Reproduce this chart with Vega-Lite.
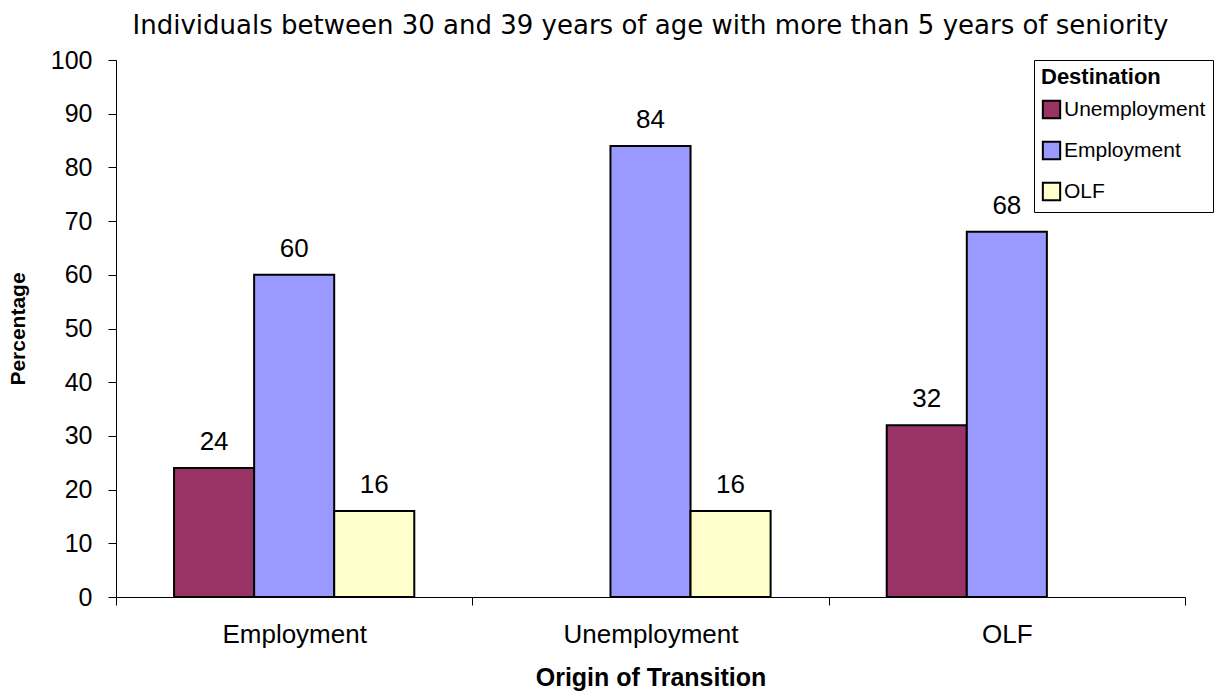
{
  "$schema": "https://vega.github.io/schema/vega-lite/v6.json",
  "width": 1069,
  "height": 537,
  "autosize": {"type": "none"},
  "padding": {"left": 116, "top": 60, "right": 43, "bottom": 99},
  "background": "white",
  "config": {
    "font": "Liberation Sans",
    "view": {"stroke": null}
  },
  "title": {
    "text": "Individuals between 30 and 39 years of age with more than 5 years of seniority",
    "fontSize": 26,
    "fontWeight": "normal",
    "color": "black",
    "anchor": "middle",
    "offset": 9,
    "font": "DejaVu Sans"
  },
  "data": {
    "values": [
      {"origin": "Employment", "destination": "Unemployment", "pct": 24},
      {"origin": "Employment", "destination": "Employment", "pct": 60},
      {"origin": "Employment", "destination": "OLF", "pct": 16},
      {"origin": "Unemployment", "destination": "Employment", "pct": 84},
      {"origin": "Unemployment", "destination": "OLF", "pct": 16},
      {"origin": "OLF", "destination": "Unemployment", "pct": 32},
      {"origin": "OLF", "destination": "Employment", "pct": 68}
    ]
  },
  "encoding": {
    "x": {
      "field": "origin",
      "type": "nominal",
      "sort": ["Employment", "Unemployment", "OLF"],
      "scale": {"paddingInner": 0, "paddingOuter": 0},
      "axis": {
        "title": "Origin of Transition",
        "titleFontSize": 25,
        "titleFontWeight": "bold",
        "titleColor": "black",
        "titlePadding": 18,
        "labelAngle": 0,
        "labelFontSize": 26,
        "labelColor": "black",
        "labelPadding": 16,
        "tickBand": "extent",
        "tickSize": 8,
        "tickColor": "black",
        "domainColor": "black",
        "grid": false
      }
    },
    "xOffset": {
      "field": "destination",
      "type": "nominal",
      "sort": ["Unemployment", "Employment", "OLF"],
      "scale": {"domain": ["Unemployment", "Employment", "OLF"], "paddingInner": 0, "paddingOuter": 0.725}
    },
    "y": {
      "field": "pct",
      "type": "quantitative",
      "scale": {"domain": [0, 100], "nice": false},
      "axis": {
        "title": "Percentage",
        "titleFontSize": 21,
        "titleFontWeight": "bold",
        "titleColor": "black",
        "titlePadding": 22,
        "values": [0, 10, 20, 30, 40, 50, 60, 70, 80, 90, 100],
        "labelFontSize": 25,
        "labelColor": "black",
        "labelPadding": 16,
        "tickSize": 8,
        "tickColor": "black",
        "domainColor": "black",
        "grid": false
      }
    }
  },
  "layer": [
    {
      "mark": {"type": "bar", "stroke": "black", "strokeWidth": 2},
      "encoding": {
        "color": {
          "field": "destination",
          "type": "nominal",
          "scale": {
            "domain": ["Unemployment", "Employment", "OLF"],
            "range": ["#993366", "#9999FF", "#FFFFCC"]
          },
          "legend": {
            "title": "Destination",
            "orient": "none",
            "legendX": 918,
            "legendY": 0,
            "titleFontSize": 22,
            "titleFontWeight": "bold",
            "titleColor": "black",
            "titlePadding": 10,
            "labelFontSize": 21,
            "labelColor": "black",
            "symbolType": "square",
            "symbolSize": 300,
            "symbolStrokeColor": "black",
            "symbolStrokeWidth": 2,
            "symbolOpacity": 1,
            "strokeColor": "black",
            "padding": 7,
            "rowPadding": 14,
            "labelOffset": 2,
            "fillColor": "white"
          }
        }
      }
    },
    {
      "mark": {"type": "text", "baseline": "bottom", "dy": -13, "fontSize": 26, "color": "black"},
      "encoding": {
        "text": {"field": "pct", "type": "quantitative"}
      }
    }
  ]
}
